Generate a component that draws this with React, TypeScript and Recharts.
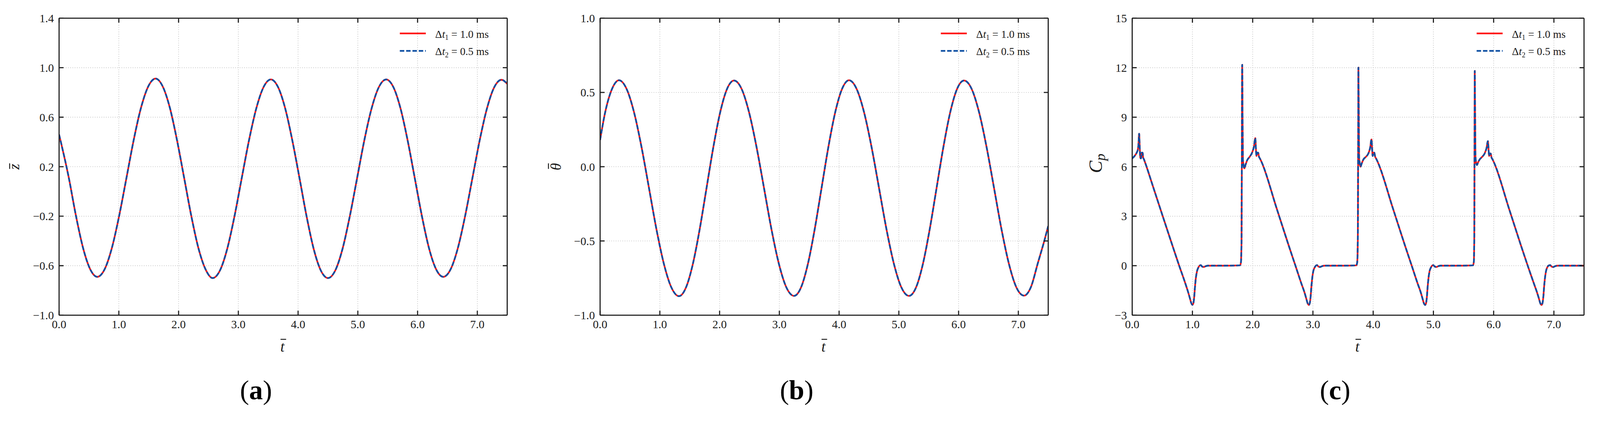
import React from "react";
import { CartesianGrid, Legend, Line, LineChart, XAxis, YAxis } from "recharts";

const FONT = '"Liberation Serif", "Times New Roman", serif';
const RED = "#ff1414";
const BLUE = "#0b4ea2";
const FRAME = "#1e1e1e";
const GRID = "#c8c8c8";
const TEXT = "#1a1a1a";

// layout (chart coordinates)
const PAGE_W = 4306;
const PAGE_H = 1112;
const PLOT_TOP = 49;
const PLOT_BOTTOM = 849;
const AXIS_W = 150;
const TICK_LEN = 12;
const LINE_W = 4.5;

// shared time axis
const tDomain: [number, number] = [0, 7.5];
const tTicks = [0, 1, 2, 3, 4, 5, 6, 7];
const tTickLabels = ["0.0", "1.0", "2.0", "3.0", "4.0", "5.0", "6.0", "7.0"];

// (a) heave z
const zTime = [
  0, 0.163, 0.282, 0.401, 0.521, 0.64,
  0.762, 0.884, 1.006, 1.128, 1.249, 1.371, 1.493, 1.615,
  1.734, 1.854, 1.973, 2.093, 2.212, 2.331, 2.451, 2.57,
  2.692, 2.814, 2.936, 3.058, 3.179, 3.301, 3.423, 3.545,
  3.664, 3.784, 3.903, 4.023, 4.142, 4.261, 4.381, 4.5,
  4.622, 4.744, 4.866, 4.988, 5.109, 5.231, 5.353, 5.475,
  5.594, 5.714, 5.833, 5.953, 6.072, 6.191, 6.311, 6.43,
  6.552, 6.674, 6.796, 6.918, 7.039, 7.161, 7.283, 7.405,
  7.5,
];
const zDt1 = [
  0.46, 0.11, -0.196, -0.456, -0.629, -0.69,
  -0.629, -0.456, -0.196, 0.11, 0.416, 0.676, 0.849, 0.912,
  0.849, 0.676, 0.416, 0.11, -0.196, -0.456, -0.629, -0.7,
  -0.639, -0.464, -0.2, 0.11, 0.414, 0.672, 0.844, 0.905,
  0.844, 0.672, 0.414, 0.11, -0.2, -0.464, -0.639, -0.7,
  -0.639, -0.464, -0.2, 0.108, 0.414, 0.672, 0.844, 0.905,
  0.844, 0.672, 0.414, 0.108, -0.198, -0.458, -0.63, -0.69,
  -0.63, -0.458, -0.198, 0.108, 0.412, 0.67, 0.842, 0.902,
  0.87,
];
const zDt2 = zDt1; // the two runs lie on top of each other
const zTicks = [-1.0, -0.6, -0.2, 0.2, 0.6, 1.0, 1.4];
const zTickLabels = ["\u22121.0", "\u22120.6", "\u22120.2", "0.2", "0.6", "1.0", "1.4"];

// (b) pitch theta
const thTime = [
  0, 0.086, 0.201, 0.316,
  0.442, 0.567, 0.693, 0.819, 0.944, 1.07, 1.195, 1.321,
  1.436, 1.551, 1.666, 1.781, 1.896, 2.011, 2.126, 2.241,
  2.367, 2.492, 2.618, 2.744, 2.869, 2.995, 3.12, 3.246,
  3.361, 3.476, 3.591, 3.706, 3.821, 3.936, 4.051, 4.166,
  4.292, 4.417, 4.543, 4.669, 4.794, 4.92, 5.045, 5.171,
  5.286, 5.401, 5.516, 5.631, 5.746, 5.861, 5.976, 6.091,
  6.217, 6.342, 6.468, 6.594, 6.719, 6.845, 6.97, 7.096,
  7.211, 7.326, 7.441, 7.5,
];
const thDt1 = [
  0.18, 0.368, 0.525, 0.582,
  0.525, 0.368, 0.133, -0.145, -0.423, -0.658, -0.815, -0.872,
  -0.815, -0.658, -0.423, -0.145, 0.133, 0.368, 0.525, 0.58,
  0.525, 0.368, 0.133, -0.145, -0.423, -0.658, -0.815, -0.87,
  -0.815, -0.658, -0.423, -0.145, 0.133, 0.368, 0.525, 0.582,
  0.525, 0.368, 0.133, -0.145, -0.423, -0.658, -0.815, -0.87,
  -0.815, -0.658, -0.423, -0.145, 0.133, 0.368, 0.525, 0.58,
  0.525, 0.368, 0.133, -0.145, -0.423, -0.658, -0.815, -0.868,
  -0.81, -0.65, -0.49, -0.4,
];
const thDt2 = thDt1;
const thTicks = [-1.0, -0.5, 0.0, 0.5, 1.0];
const thTickLabels = ["\u22121.0", "\u22120.5", "0.0", "0.5", "1.0"];

// (c) pressure coefficient
const cpTime = [
  0, 0.04, 0.075, 0.095, 0.105, 0.115, 0.125, 0.135, 0.145, 0.16, 0.172, 0.182, 0.195, 0.21,
  0.35, 0.5, 0.65, 0.78, 0.88, 0.93, 0.96, 0.98, 1.0, 1.015, 1.028, 1.042, 1.055, 1.075,
  1.1, 1.125, 1.14, 1.16, 1.19, 1.22, 1.26, 1.5, 1.79,
  1.805, 1.815, 1.82, 1.826, 1.832, 1.838, 1.845, 1.852, 1.862, 1.88, 1.91, 1.95, 1.99,
  2.02, 2.043, 2.055, 2.063, 2.075, 2.09, 2.105, 2.12, 2.14,
  2.4, 2.6, 2.71, 2.81, 2.86, 2.89, 2.91, 2.932, 2.947, 2.96, 2.974, 2.987, 3.005,
  3.03, 3.055, 3.07, 3.09, 3.12, 3.15, 3.19, 3.45, 3.72,
  3.735, 3.745, 3.75, 3.755, 3.761, 3.767, 3.774, 3.781, 3.79, 3.81, 3.84, 3.88, 3.92,
  3.95, 3.972, 3.984, 3.992, 4.004, 4.018, 4.033, 4.048, 4.068,
  4.33, 4.53, 4.64, 4.74, 4.79, 4.82, 4.84, 4.862, 4.877, 4.89, 4.904, 4.917, 4.935,
  4.96, 4.985, 5.0, 5.02, 5.05, 5.08, 5.12, 5.4, 5.655,
  5.67, 5.678, 5.682, 5.686, 5.692, 5.698, 5.705, 5.712, 5.722, 5.74, 5.77, 5.81, 5.85,
  5.88, 5.905, 5.917, 5.925, 5.937, 5.95, 5.965, 5.98, 6.0,
  6.26, 6.46, 6.57, 6.67, 6.72, 6.752, 6.772, 6.795, 6.81, 6.823, 6.837, 6.85, 6.868,
  6.89, 6.92, 6.94, 6.96, 6.99, 7.02, 7.06, 7.5,
];
const cpDt1 = [
  6.5, 6.65, 6.85, 7.05, 7.4, 8.0, 7.2, 6.55, 6.5, 6.85, 6.85, 6.55, 6.45, 6.3,
  4.75, 3.08, 1.42, 0.0, -1.05, -1.62, -2.0, -2.26, -2.37, -2.28, -1.95, -1.3, -0.8, -0.35,
  -0.1, 0.02, 0.03, -0.05, -0.08, -0.03, 0.0, 0.0, 0.02,
  0.2, 1.5, 6.0, 12.17, 9.0, 6.4, 6.2, 6.0, 5.9, 6.1, 6.4, 6.6, 6.85,
  7.2, 7.73, 7.0, 6.65, 6.85, 6.85, 6.6, 6.5, 6.35,
  3.45, 1.2, 0.0, -1.1, -1.62, -2.0, -2.26, -2.38, -2.28, -1.95, -1.3, -0.8, -0.35,
  -0.1, 0.02, 0.03, -0.05, -0.08, -0.03, 0.0, 0.0, 0.02,
  0.2, 1.5, 6.0, 12.0, 9.0, 6.5, 6.3, 6.1, 6.0, 6.2, 6.45, 6.6, 6.8,
  7.15, 7.65, 7.0, 6.65, 6.85, 6.85, 6.6, 6.5, 6.35,
  3.45, 1.2, 0.0, -1.1, -1.62, -2.0, -2.26, -2.38, -2.28, -1.95, -1.3, -0.8, -0.35,
  -0.1, 0.02, 0.03, -0.05, -0.08, -0.03, 0.0, 0.0, 0.02,
  0.2, 1.5, 6.0, 11.8, 9.0, 6.6, 6.35, 6.2, 6.1, 6.25, 6.45, 6.6, 6.8,
  7.1, 7.55, 6.95, 6.65, 6.8, 6.8, 6.55, 6.45, 6.3,
  3.4, 1.15, -0.05, -1.1, -1.62, -2.0, -2.26, -2.38, -2.28, -1.95, -1.3, -0.8, -0.35,
  -0.1, 0.02, 0.03, -0.05, -0.08, -0.03, 0.0, 0.0,
];
const cpDt2 = cpDt1;
const cpTicks = [-3, 0, 3, 6, 9, 12, 15];
const cpTickLabels = ["\u22123", "0", "3", "6", "9", "12", "15"];

const legendItems = [
  { sub: "1", value: "1.0", color: RED, dash: undefined as string | undefined },
  { sub: "2", value: "0.5", color: BLUE, dash: "12 5" },
];

type Row = { t: number; dt1: number; dt2: number };

function makeRows(time: number[], a: number[], b: number[]): Row[] {
  return time.map((t, i) => ({ t, dt1: a[i], dt2: b[i] }));
}

function LegendBox() {
  return (
    <svg width={300} height={100} style={{ display: "block", overflow: "visible" }}>
      {legendItems.map((item, i) => {
        const y = 21 + i * 47;
        return (
          <g key={item.sub}>
            <line x1={0} x2={70} y1={y} y2={y} stroke={item.color} strokeWidth={LINE_W} strokeDasharray={item.dash} />
            <text x={95} y={y + 11.5} fontFamily={FONT} fontSize={29} fill={TEXT}>
              <tspan>Δ</tspan>
              <tspan fontStyle="italic">t</tspan>
              <tspan fontSize={19} dy={6}>{item.sub}</tspan>
              <tspan dy={-6}>{` = ${item.value} ms`}</tspan>
            </text>
          </g>
        );
      })}
    </svg>
  );
}

type PanelProps = {
  chartLeft: number;
  plotWidth: number;
  rows: Row[];
  yDomain: [number, number];
  yTicks: number[];
  yTickLabels: string[];
  yLabel: "z" | "theta" | "cp";
  caption: string;
  captionShift: number;
};

function Panel({ chartLeft, plotWidth, rows, yDomain, yTicks, yTickLabels, yLabel, caption, captionShift }: PanelProps) {
  const width = AXIS_W + plotWidth + 20;
  const plotRight = AXIS_W + plotWidth;
  const cx = AXIS_W + plotWidth / 2;
  const cy = (PLOT_TOP + PLOT_BOTTOM) / 2;
  const frame = { stroke: FRAME, strokeWidth: 3 };

  const leftTick = (p: any) => (
    <g>
      <line x1={AXIS_W} x2={AXIS_W + TICK_LEN} y1={p.y} y2={p.y} {...frame} />
      <text x={AXIS_W - 14} y={p.y} dy={11} textAnchor="end" fontFamily={FONT} fontSize={31} fill={TEXT}>
        {yTickLabels[yTicks.indexOf(p.payload.value)]}
      </text>
    </g>
  );
  const rightTick = (p: any) => (
    <line x1={plotRight} x2={plotRight - TICK_LEN} y1={p.y} y2={p.y} {...frame} />
  );
  const bottomTick = (p: any) => (
    <g>
      <line x1={p.x} x2={p.x} y1={PLOT_BOTTOM} y2={PLOT_BOTTOM - TICK_LEN} {...frame} />
      <text x={p.x} y={PLOT_BOTTOM + 35} textAnchor="middle" fontFamily={FONT} fontSize={31} fill={TEXT}>
        {tTickLabels[tTicks.indexOf(p.payload.value)]}
      </text>
    </g>
  );
  const topTick = (p: any) => (
    <line x1={p.x} x2={p.x} y1={PLOT_TOP} y2={PLOT_TOP + TICK_LEN} {...frame} />
  );

  const xLabel = () => {
    const base = PLOT_BOTTOM + 98;
    const capBase = PLOT_BOTTOM + 226;
    const capX = cx + captionShift;
    return (
      <g>
        <text x={cx - 2} y={base} textAnchor="middle" fontFamily={FONT} fontStyle="italic" fontSize={40} fill={TEXT}>
          t
        </text>
        <line x1={cx - 7} x2={cx + 8} y1={base - 33} y2={base - 33} stroke={TEXT} strokeWidth={2.5} />
        <text x={capX} y={capBase} textAnchor="middle" fontFamily={FONT} fontSize={74} fill="#000">
          <tspan>(</tspan>
          <tspan fontWeight="bold">{caption}</tspan>
          <tspan>)</tspan>
        </text>
      </g>
    );
  };

  const yLabelEl = () => {
    if (yLabel === "cp") {
      const bx = AXIS_W - 81;
      const ly = 440;
      return (
        <g transform={`rotate(-90 ${bx} ${ly})`}>
          <text x={bx} y={ly} textAnchor="middle" fontFamily={FONT} fontStyle="italic" fontSize={50} fill={TEXT}>
            <tspan>C</tspan>
            <tspan fontSize={38} dy={8}>p</tspan>
          </text>
        </g>
      );
    }
    const bx = AXIS_W - (yLabel === "z" ? 108 : 105);
    const glyph = yLabel === "z" ? "z" : "θ";
    const barUp = yLabel === "z" ? 25 : 34;
    return (
      <g transform={`rotate(-90 ${bx} ${cy})`}>
        <text x={bx} y={cy} textAnchor="middle" fontFamily={FONT} fontStyle="italic" fontSize={40} fill={TEXT}>
          {glyph}
        </text>
        <line x1={bx - 6} x2={bx + 9} y1={cy - barUp} y2={cy - barUp} stroke={TEXT} strokeWidth={2.5} />
      </g>
    );
  };

  return (
    <div style={{ position: "absolute", left: chartLeft, top: 0 }}>
      <LineChart
        width={width}
        height={PAGE_H}
        data={rows}
        margin={{ top: PLOT_TOP - 10, right: 10, bottom: PAGE_H - PLOT_BOTTOM - 100, left: 0 }}
      >
        <CartesianGrid stroke={GRID} strokeDasharray="2 4" strokeWidth={2} />
        <XAxis
          dataKey="t"
          type="number"
          domain={tDomain}
          ticks={tTicks}
          interval={0}
          allowDataOverflow
          height={100}
          tickSize={0}
          tickLine={false}
          axisLine={frame}
          tick={bottomTick}
          label={xLabel}
        />
        <XAxis
          xAxisId="top"
          dataKey="t"
          orientation="top"
          type="number"
          domain={tDomain}
          ticks={tTicks}
          interval={0}
          allowDataOverflow
          height={10}
          tickSize={0}
          tickLine={false}
          axisLine={frame}
          tick={topTick}
        />
        <YAxis
          type="number"
          domain={yDomain}
          ticks={yTicks}
          interval={0}
          allowDataOverflow
          width={AXIS_W}
          tickSize={0}
          tickLine={false}
          axisLine={frame}
          tick={leftTick}
          label={yLabelEl}
        />
        <YAxis
          yAxisId="right"
          orientation="right"
          type="number"
          domain={yDomain}
          ticks={yTicks}
          interval={0}
          allowDataOverflow
          width={10}
          tickSize={0}
          tickLine={false}
          axisLine={frame}
          tick={rightTick}
        />
        {/* the red run is bound to the top/right axes (same domains) so those axes get a scale */}
        <Line
          xAxisId="top"
          yAxisId="right"
          dataKey="dt1"
          name="Δt1 = 1.0 ms"
          type="monotone"
          stroke={RED}
          strokeWidth={LINE_W}
          dot={false}
          isAnimationActive={false}
        />
        <Line
          dataKey="dt2"
          name="Δt2 = 0.5 ms"
          type="monotone"
          stroke={BLUE}
          strokeWidth={LINE_W}
          strokeDasharray="12 5"
          dot={false}
          isAnimationActive={false}
        />
        <Legend
          layout="horizontal"
          verticalAlign="middle"
          align="center"
          wrapperStyle={{ left: plotRight - 289, top: PLOT_TOP + 20, width: 300, height: 100 }}
          content={() => <LegendBox />}
        />
      </LineChart>
    </div>
  );
}

export default function App() {
  // fit the 4306-wide layout into whatever CSS width the viewport really has
  const vw = typeof window !== "undefined" && window.innerWidth ? window.innerWidth : PAGE_W;
  const scale = vw / PAGE_W;
  return (
    <div
      style={{
        position: "absolute",
        left: 0,
        top: 0,
        width: PAGE_W,
        height: PAGE_H,
        background: "#fff",
        overflow: "hidden",
        transform: `scale(${scale})`,
        transformOrigin: "0 0",
      }}
    >
      <Panel
        chartLeft={159 - AXIS_W}
        plotWidth={1206}
        rows={makeRows(zTime, zDt1, zDt2)}
        yDomain={[-1.0, 1.4]}
        yTicks={zTicks}
        yTickLabels={zTickLabels}
        yLabel="z"
        caption="a"
        captionShift={-73}
      />
      <Panel
        chartLeft={1615 - AXIS_W}
        plotWidth={1206}
        rows={makeRows(thTime, thDt1, thDt2)}
        yDomain={[-1.0, 1.0]}
        yTicks={thTicks}
        yTickLabels={thTickLabels}
        yLabel="theta"
        caption="b"
        captionShift={-74}
      />
      <Panel
        chartLeft={3047 - AXIS_W}
        plotWidth={1216}
        rows={makeRows(cpTime, cpDt1, cpDt2)}
        yDomain={[-3, 15]}
        yTicks={cpTicks}
        yTickLabels={cpTickLabels}
        yLabel="cp"
        caption="c"
        captionShift={-62}
      />
    </div>
  );
}
